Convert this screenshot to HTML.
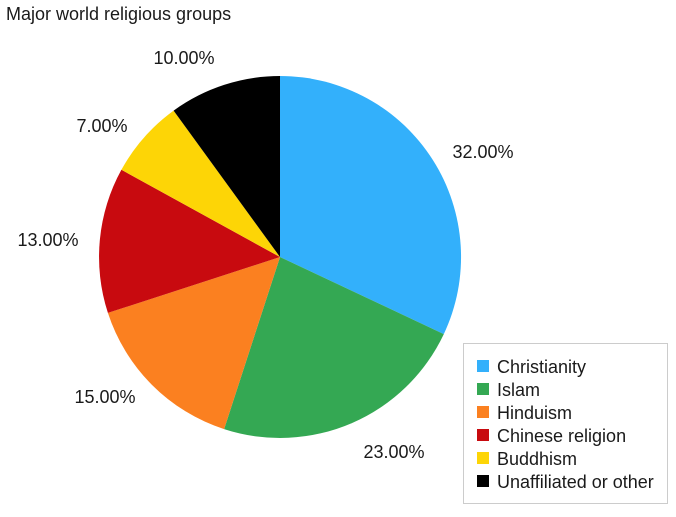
<!DOCTYPE html>
<html><head><style>
body{margin:0;background:#fff;}
svg text{font-family:"Liberation Sans",Arial,sans-serif;fill:#1a1a1a;}
</style></head><body>
<svg width="676" height="512" viewBox="0 0 676 512">
<rect width="676" height="512" fill="#fff"/>
<text x="6" y="20" font-size="18">Major world religious groups</text>
<g stroke="none">
<path d="M280,257 L280,76 A181,181 0 0 1 443.8,334.1 Z" fill="#33b0fb"/>
<path d="M280,257 L443.8,334.1 A181,181 0 0 1 224.1,429.1 Z" fill="#34a853"/>
<path d="M280,257 L224.1,429.1 A181,181 0 0 1 107.9,312.9 Z" fill="#fb8020"/>
<path d="M280,257 L107.9,312.9 A181,181 0 0 1 121.4,169.8 Z" fill="#c80a0f"/>
<path d="M280,257 L121.4,169.8 A181,181 0 0 1 173.6,110.6 Z" fill="#fdd506"/>
<path d="M280,257 L173.6,110.6 A181,181 0 0 1 280,76 Z" fill="#000"/>
</g>
<g font-size="18" text-anchor="middle">
<text x="483" y="158">32.00%</text>
<text x="394" y="458">23.00%</text>
<text x="105" y="403">15.00%</text>
<text x="48" y="246">13.00%</text>
<text x="102" y="132">7.00%</text>
<text x="184" y="64">10.00%</text>
</g>
<rect x="463.5" y="343.5" width="204" height="160" fill="#fff" stroke="#ccc"/>
<g font-size="18">
<rect x="477" y="360" width="12" height="12" fill="#33b0fb"/><text x="497" y="373">Christianity</text>
<rect x="477" y="383" width="12" height="12" fill="#34a853"/><text x="497" y="396">Islam</text>
<rect x="477" y="406" width="12" height="12" fill="#fb8020"/><text x="497" y="419">Hinduism</text>
<rect x="477" y="429" width="12" height="12" fill="#c80a0f"/><text x="497" y="442">Chinese religion</text>
<rect x="477" y="452" width="12" height="12" fill="#fdd506"/><text x="497" y="465">Buddhism</text>
<rect x="477" y="475" width="12" height="12" fill="#000"/><text x="497" y="488">Unaffiliated or other</text>
</g>
</svg>
</body></html>
